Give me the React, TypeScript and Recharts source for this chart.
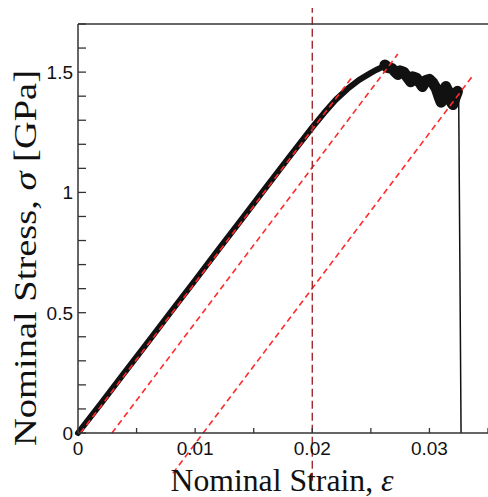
import React from 'react';
import { LineChart, Line, XAxis, YAxis, ReferenceLine } from 'recharts';

// loading branch
const riseStrain = [0, 0.002, 0.004, 0.006, 0.008, 0.01, 0.012, 0.014, 0.016, 0.018, 0.02, 0.021, 0.022, 0.023, 0.024, 0.025, 0.0255, 0.026, 0.0263];
const riseStress = [0, 0.125, 0.253, 0.38, 0.508, 0.635, 0.763, 0.89, 1.018, 1.145, 1.27, 1.33, 1.385, 1.43, 1.468, 1.497, 1.51, 1.522, 1.53];

// serrated softening part after the peak
const softStrain = [0.0262, 0.0264, 0.0268, 0.0271, 0.0273, 0.0275, 0.0278, 0.0281, 0.0284, 0.0286, 0.0289, 0.0292, 0.0294, 0.0297, 0.03, 0.0303, 0.0306, 0.0308, 0.031, 0.0312, 0.0314, 0.0316, 0.0318, 0.032, 0.0322, 0.0324];
const softStress = [1.53, 1.52, 1.515, 1.5, 1.49, 1.505, 1.5, 1.48, 1.46, 1.48, 1.475, 1.455, 1.44, 1.465, 1.47, 1.455, 1.43, 1.4, 1.375, 1.41, 1.44, 1.42, 1.38, 1.365, 1.395, 1.42];

// fracture drop
const dropStrain = [0.0324, 0.0325, 0.0326, 0.0327];
const dropStress = [1.42, 1.38, 0.7, 0];

// dashed offset lines (start strain/stress, end strain/stress)
const guideStartStrain = [0.0002, 0.0029, 0.0081];
const guideStartStress = [0, 0, -0.167];
const guideEndStrain = [0.0234, 0.0273, 0.0336];
const guideEndStress = [1.479, 1.575, 1.479];

const markStrain = 0.02;
const markStress = [1.78, -0.2];

const xTicks = [0, 0.005, 0.01, 0.015, 0.02, 0.025, 0.03, 0.035];
const xLabelled = [0, 0.01, 0.02, 0.03];
const yTicks = [0, 0.1, 0.2, 0.3, 0.4, 0.5, 0.6, 0.7, 0.8, 0.9, 1, 1.1, 1.2, 1.3, 1.4, 1.5, 1.6, 1.7];
const yLabelled = [0, 0.5, 1, 1.5];

const toPoints = (xs: number[], ys: number[]) => xs.map((strain, i) => ({ strain, stress: ys[i] }));

const axisColor = '#333';
const sans = 'Liberation Sans, Arial, sans-serif';
const serif = 'Liberation Serif, Times New Roman, serif';

// the axis title sits at the very bottom; drop the body margin and pad the box instead
if (typeof document !== 'undefined') document.body.style.margin = '0';

function BottomTick(props: any) {
  const { x, y, payload } = props;
  const v = payload.value;
  return (
    <g>
      <line x1={x} y1={y} x2={x} y2={y - 5} stroke={axisColor} strokeWidth={1.3} />
      {xLabelled.includes(v) && (
        <text x={x} y={y + 22} textAnchor="middle" fontFamily={sans} fontSize={19} fill="#111">
          {String(v)}
        </text>
      )}
    </g>
  );
}

function TopTick(props: any) {
  const { x, y } = props;
  return <line x1={x} y1={y} x2={x} y2={y + 6} stroke={axisColor} strokeWidth={1.3} />;
}

function LeftTick(props: any) {
  const { x, y, payload } = props;
  const v = payload.value;
  return (
    <g>
      <line x1={x} y1={y} x2={x + 8} y2={y} stroke={axisColor} strokeWidth={1.3} />
      {yLabelled.includes(v) && (
        <text x={x - 5} y={y} dy="0.36em" textAnchor="end" fontFamily={sans} fontSize={19} fill="#111">
          {String(v)}
        </text>
      )}
    </g>
  );
}

function RightTick(props: any) {
  const { x, y } = props;
  return <line x1={x} y1={y} x2={x - 6} y2={y} stroke={axisColor} strokeWidth={1.3} />;
}

function XTitle(props: any) {
  const vb = props.viewBox;
  return (
    <text
      x={vb.x + vb.width / 2 - 1}
      y={vb.y + 58}
      textAnchor="middle"
      fontFamily={serif}
      fontSize={31}
      fill="#111"
      textLength={223}
      lengthAdjust="spacingAndGlyphs"
    >
      Nominal Strain,{'  '}
      <tspan fontStyle="italic">ε</tspan>
    </text>
  );
}

function YTitle(props: any) {
  const vb = props.viewBox;
  const cx = 28;
  const cy = vb.y + 234;
  return (
    <text
      x={cx}
      y={cy}
      transform={`rotate(-90 ${cx} ${cy})`}
      textAnchor="middle"
      fontFamily={serif}
      fontSize={32}
      fill="#111"
      textLength={376}
      lengthAdjust="spacingAndGlyphs"
    >
      Nominal Stress, <tspan fontStyle="italic">σ</tspan> [GPa]
    </text>
  );
}

export default function App() {
  const rise = toPoints(riseStrain, riseStress);
  const soft = toPoints(softStrain, softStress);
  const drop = toPoints(dropStrain, dropStress);

  return (
    <div style={{ width: 480, height: 489, padding: '8px 0 0 8px' }}>
      <LineChart width={480} height={489} margin={{ top: 0, right: 0, bottom: 0, left: 0 }}>
        <XAxis
          type="number"
          dataKey="strain"
          domain={[0, 0.035]}
          ticks={xTicks}
          interval={0}
          height={64}
          tickSize={0}
          tickMargin={0}
          tickLine={false}
          tick={<BottomTick />}
          axisLine={{ stroke: axisColor, strokeWidth: 1.5 }}
          label={<XTitle />}
        />
        <XAxis
          xAxisId="top"
          orientation="top"
          type="number"
          dataKey="strain"
          domain={[0, 0.035]}
          ticks={xTicks}
          interval={0}
          height={16}
          tickSize={0}
          tickMargin={0}
          tickLine={false}
          tick={<TopTick />}
          axisLine={{ stroke: axisColor, strokeWidth: 1.5 }}
        />
        <YAxis
          type="number"
          dataKey="stress"
          domain={[0, 1.7]}
          ticks={yTicks}
          interval={0}
          width={70}
          tickSize={0}
          tickMargin={0}
          tickLine={false}
          tick={<LeftTick />}
          axisLine={{ stroke: axisColor, strokeWidth: 1.5 }}
          label={<YTitle />}
        />
        <YAxis
          yAxisId="right"
          orientation="right"
          type="number"
          domain={[0, 1.7]}
          ticks={yTicks}
          interval={0}
          width={0}
          tickSize={0}
          tickMargin={0}
          tickLine={false}
          tick={<RightTick />}
          axisLine={false}
        />
        <Line data={rise} dataKey="stress" stroke="#111" strokeWidth={6} dot={false} isAnimationActive={false} strokeLinejoin="round" strokeLinecap="round" />
        <Line data={soft} dataKey="stress" stroke="#111" strokeWidth={11} dot={false} isAnimationActive={false} strokeLinejoin="round" strokeLinecap="round" />
        <Line data={drop} dataKey="stress" stroke="#111" strokeWidth={1.5} dot={false} isAnimationActive={false} />
        {guideStartStrain.map((s, i) => (
          <ReferenceLine
            key={i}
            segment={[
              { x: s, y: guideStartStress[i] },
              { x: guideEndStrain[i], y: guideEndStress[i] },
            ]}
            ifOverflow="visible"
            stroke="#ff2a2a"
            strokeWidth={1.6}
            strokeDasharray="6 4"
          />
        ))}
        <ReferenceLine
          segment={[
            { x: markStrain, y: markStress[0] },
            { x: markStrain, y: markStress[1] },
          ]}
          ifOverflow="visible"
          stroke="#a02a2e"
          strokeWidth={1.4}
          strokeDasharray="8 4"
        />
      </LineChart>
    </div>
  );
}
